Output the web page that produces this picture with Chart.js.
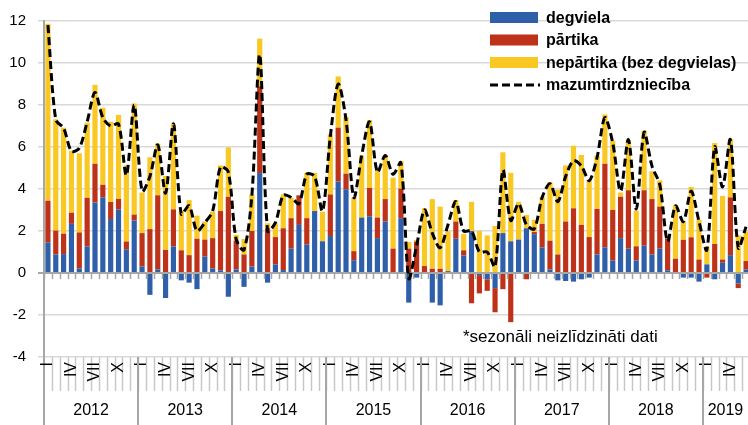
<!DOCTYPE html>
<html><head><meta charset="utf-8">
<script src="https://cdn.jsdelivr.net/npm/chart.js@4.4.0/dist/chart.umd.min.js"></script>
<style>html,body{margin:0;padding:0;background:#fff;overflow:hidden}#wrap{width:752px;height:425px}</style>
</head><body><div id="wrap"><canvas id="c" width="752" height="425"></canvas></div>
<script>
const years = ['2012','2013','2014','2015','2016','2017','2018','2019'];
const monthsPerYear = [12,12,12,12,12,12,12,6];
const romanMonths = ['I','II','III','IV','V','VI','VII','VIII','IX','X','XI','XII'];
const labelledMonths = ['I','IV','VII','X'];
const yTicks = [-4,-2,0,2,4,6,8,10,12];
const seriesNames = ['degviela','pārtika','nepārtika (bez degvielas)','mazumtirdzniecība'];
const footnote = '*sezonāli neizlīdzināti dati';

const degviela = [
 1.46,0.88,0.90,2.34,0.22,1.26,3.36,3.60,2.57,3.03,1.13,2.50,
 0.31,-1.04,0.17,-1.19,1.26,-0.35,-0.46,-0.77,0.78,0.22,0.13,-1.13,
 0.17,-0.66,0.31,4.76,-0.46,0.41,0.14,1.16,2.29,1.35,2.95,1.51,
 1.76,4.36,3.99,0.61,2.64,2.70,1.66,2.45,0.00,2.61,-1.41,-0.22,
 0.00,-1.41,-1.54,0.09,1.63,0.83,2.00,-0.10,-0.30,-0.72,1.90,1.51,
 1.59,2.13,1.85,1.22,0.17,-0.35,-0.38,-0.41,-0.30,-0.22,0.88,1.22,
 0.60,1.66,1.16,0.60,1.30,0.88,1.16,0.13,0.00,-0.22,-0.22,-0.41,
 0.41,-0.30,0.49,0.85,-0.50,0.17];
const partika = [
 1.98,1.14,0.97,0.53,1.71,2.32,1.84,0.60,0.81,0.50,0.37,0.28,
 1.59,2.09,3.53,1.10,1.77,1.08,0.85,1.63,0.81,1.44,2.82,3.63,
 1.37,0.88,1.69,4.13,2.13,1.30,1.99,1.45,1.41,1.26,0.00,0.00,
 1.98,2.56,0.74,0.43,-0.05,1.35,0.98,1.07,1.16,1.41,1.16,1.50,
 0.33,0.20,0.20,0.00,0.82,0.25,-1.44,-0.87,-0.55,-1.15,-0.77,-2.34,
 0.00,-0.30,0.10,1.12,1.37,0.88,2.45,3.08,2.29,1.71,2.17,3.98,
 2.40,1.97,2.78,0.67,2.64,2.64,2.00,1.50,0.68,1.58,1.70,0.64,
 -0.22,1.38,0.15,2.75,-0.22,0.40];
const nepartika = [
 8.43,5.30,5.05,2.95,3.77,3.58,3.76,3.67,3.82,4.00,3.62,5.29,
 1.93,3.42,2.47,3.52,4.05,1.89,2.62,1.10,0.86,1.26,2.17,2.35,
 0.28,0.74,1.74,2.27,0.24,0.66,1.61,0.97,-0.05,2.16,1.82,1.41,
 2.87,2.44,2.71,2.54,2.95,3.23,2.24,2.07,3.38,1.30,0.32,0.08,
 2.75,3.32,2.96,1.90,1.02,0.77,1.39,2.00,1.79,2.24,3.85,3.26,
 1.80,0.63,0.58,1.29,2.79,3.09,2.67,2.98,3.33,2.70,2.54,2.35,
 3.30,0.20,2.40,1.70,2.83,1.32,1.25,0.10,2.55,0.90,2.40,1.89,
 0.86,4.81,3.03,2.77,1.79,1.41];
const mazumtirdznieciba = [
 11.8,7.3,6.9,5.8,5.95,7.2,8.6,7.4,7.0,7.1,4.65,8.0,
 3.9,4.6,6.1,3.8,7.1,2.8,3.2,2.0,2.4,2.95,5.05,4.8,
 1.6,1.1,3.7,10.4,2.0,2.4,3.7,3.6,3.3,4.7,4.6,2.95,
 6.5,9.0,7.3,3.6,5.6,7.2,4.8,5.6,4.7,5.25,-0.25,1.3,
 3.0,1.9,1.2,2.3,3.4,2.0,2.0,1.0,1.0,0.3,4.9,2.5,
 3.3,2.3,2.1,3.6,4.25,3.4,4.6,5.35,5.1,4.4,5.5,7.4,
 6.2,3.9,6.35,3.05,6.7,5.1,4.2,1.5,3.2,2.45,3.9,2.45,
 1.1,6.0,4.1,6.35,1.2,2.2];

const categories = [];
years.forEach((y, yi) => { for (let m = 0; m < monthsPerYear[yi]; m++) categories.push(y + ' ' + romanMonths[m]); });

const COL_BLUE = '#2f5fa8', COL_RED = '#be3219', COL_YEL = '#f9c823';
const FONT = "'Liberation Sans', Arial, sans-serif";

const axisDecor = {
  id: 'axisDecor',
  afterDraw(chart) {
    const ctx = chart.ctx, xs = chart.scales.x, ys = chart.scales.y, ca = chart.chartArea;
    const n = categories.length;
    const step = xs.getPixelForValue(1) - xs.getPixelForValue(0);
    const y0 = ys.getPixelForValue(0);
    const H = chart.height;
    ctx.save();
    ctx.strokeStyle = '#a6a6a6'; ctx.lineWidth = 2;
    ctx.beginPath(); ctx.moveTo(ca.left, ca.bottom); ctx.lineTo(ca.left, H); ctx.stroke();
    ctx.lineWidth = 1.5; ctx.strokeStyle = '#a6a6a6';
    for (let i = 0; i <= n; i++) {
      const x = Math.round(xs.getPixelForValue(i) - step / 2) + 0.5;
      ctx.beginPath(); ctx.moveTo(x, y0); ctx.lineTo(x, y0 + 6); ctx.stroke();
    }
    ctx.strokeStyle = '#c8c8c8'; ctx.lineWidth = 1.5;
    for (let i = 1; i <= n; i++) {
      const x = Math.round(xs.getPixelForValue(i) - step / 2) + 0.5;
      ctx.beginPath(); ctx.moveTo(x, ca.bottom); ctx.lineTo(x, ca.bottom + 34); ctx.stroke();
    }
    ctx.fillStyle = '#000'; ctx.font = '16px ' + FONT;
    ctx.textAlign = 'right'; ctx.textBaseline = 'middle';
    categories.forEach((c, i) => {
      const m = c.split(' ')[1];
      if (!labelledMonths.includes(m)) return;
      const x = xs.getPixelForValue(i);
      ctx.save(); ctx.translate(x, ca.bottom + 5); ctx.rotate(-Math.PI / 2);
      ctx.fillText(m, 0, 0); ctx.restore();
    });
    let start = 0;
    ctx.font = '16px ' + FONT; ctx.textAlign = 'center'; ctx.textBaseline = 'middle';
    years.forEach((y, yi) => {
      const end = start + monthsPerYear[yi] - 1;
      const xl = xs.getPixelForValue(start) - step / 2;
      const xr = xs.getPixelForValue(end) + step / 2;
      ctx.strokeStyle = '#a6a6a6'; ctx.lineWidth = 2;
      if (yi > 0) { ctx.beginPath(); ctx.moveTo(Math.round(xl), ca.bottom); ctx.lineTo(Math.round(xl), H); ctx.stroke(); }
      ctx.fillStyle = '#000';
      ctx.fillText(y, (xl + Math.min(xr, 748)) / 2, ca.bottom + 54);
      start = end + 1;
    });
    ctx.font = '17px ' + FONT; ctx.textAlign = 'left'; ctx.textBaseline = 'middle';
    ctx.fillText(footnote, 463, ys.getPixelForValue(-3.05));
    const ds = chart.data.datasets;
    const lx = 490, tx = 546, rows = [17.5, 40, 62.5, 85];
    ctx.font = 'bold 16px ' + FONT;
    ds.forEach((d, i) => {
      const yy = rows[i];
      if (d.type === 'line') {
        ctx.strokeStyle = '#000'; ctx.lineWidth = 3; ctx.setLineDash([8, 4]);
        ctx.beginPath(); ctx.moveTo(lx, yy); ctx.lineTo(lx + 50, yy); ctx.stroke();
        ctx.setLineDash([]);
      } else {
        ctx.fillStyle = d.backgroundColor; ctx.fillRect(lx, yy - 5.5, 48, 11);
      }
      ctx.fillStyle = '#000';
      ctx.fillText(d.label, tx, yy + 1);
    });
    ctx.restore();
  }
};

new Chart(document.getElementById('c'), {
  type: 'bar',
  data: {
    labels: categories,
    datasets: [
      { label: seriesNames[0], data: degviela, backgroundColor: COL_BLUE, order: 1, stack: 's' },
      { label: seriesNames[1], data: partika, backgroundColor: COL_RED, order: 1, stack: 's' },
      { label: seriesNames[2], data: nepartika, backgroundColor: COL_YEL, order: 1, stack: 's' },
      { type: 'line', label: seriesNames[3], data: mazumtirdznieciba, borderColor: '#000', borderWidth: 3,
        borderDash: [8, 4], pointRadius: 0, tension: 0.3, fill: false, order: 0, stack: 'line' }
    ]
  },
  options: {
    responsive: false, animation: false, devicePixelRatio: 1,
    layout: { padding: { top: 17, right: 2, bottom: 68, left: 0 } },
    datasets: { bar: { barPercentage: 0.66, categoryPercentage: 1 } },
    plugins: { legend: { display: false }, tooltip: { enabled: false } },
    scales: {
      x: { display: false, stacked: true, offset: true },
      y: {
        stacked: true, min: -4, max: 12,
        afterBuildTicks: s => { s.ticks = yTicks.map(v => ({ value: v })); },
        afterFit: s => { s.width = 44; },
        ticks: { font: { family: FONT, size: 15 }, color: '#000', padding: 12 },
        grid: { color: c => c.tick && c.tick.value === 0 ? '#a6a6a6' : '#d9d9d9',
                lineWidth: c => c.tick && c.tick.value === 0 ? 2 : 1.5, tickLength: 6, drawTicks: true },
        border: { display: true, color: '#a6a6a6', width: 2 }
      }
    }
  },
  plugins: [axisDecor]
});
</script></body></html>
